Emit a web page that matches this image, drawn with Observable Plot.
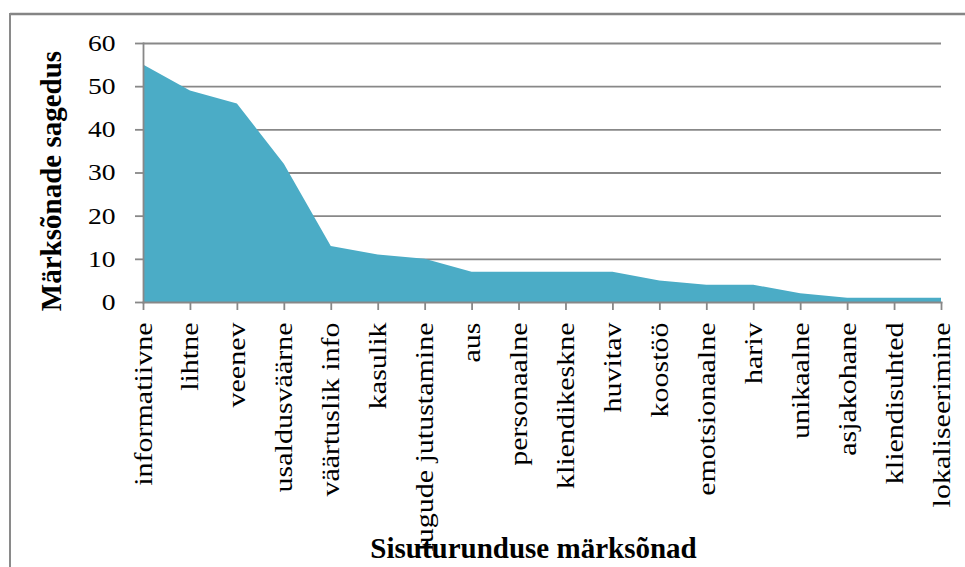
<!DOCTYPE html>
<html><head><meta charset="utf-8">
<script src="https://cdn.jsdelivr.net/npm/d3@7"></script>
<script src="https://cdn.jsdelivr.net/npm/@observablehq/plot@0.6"></script>
<style>
html,body{margin:0;padding:0;background:#fff;overflow:hidden;}
#wrap{position:relative;width:965px;height:567px;overflow:hidden;}
#chart{position:absolute;left:0;top:0;}
</style></head><body>
<div id="wrap"><div id="chart"></div></div>
<script>
const categories = ["informatiivne","lihtne","veenev","usaldusväärne","väärtuslik info","kasulik","lugude jutustamine","aus","personaalne","kliendikeskne","huvitav","koostöö","emotsionaalne","hariv","unikaalne","asjakohane","kliendisuhted","lokaliseerimine"];
const values = [55,49,46,32,13,11,10,7,7,7,7,5,4,4,2,1,1,1];
const yTicks = [0,10,20,30,40,50,60];
const xTitle = "Sisuturunduse märksõnad";
const yTitle = "Märksõnade sagedus";

const data = categories.map((c,i)=>({cat:c, val:values[i]}));
const gray = "#888888";

const plot = Plot.plot({
  width:965, height:567,
  marginLeft:143, marginRight:24, marginTop:43, marginBottom:265,
  style:{fontFamily:"'Liberation Serif','Times New Roman',serif", background:"transparent", color:"#000", overflow:"visible"},
  x:{type:"point", domain:categories, padding:0, round:false, label:null},
  y:{domain:[0,60], label:null},
  marks:[
    Plot.ruleY(yTicks.slice(1), {stroke:gray, strokeWidth:1.8}),
    Plot.areaY(data, {x:"cat", y:"val", fill:"#4bacc6"}),
    Plot.frame({anchor:"left", stroke:gray, strokeWidth:1.8}),
    Plot.frame({anchor:"bottom", stroke:gray, strokeWidth:1.8}),
    Plot.axisY({ticks:yTicks, tickSize:8, tickPadding:20, stroke:gray, strokeWidth:1.8, fontSize:23, label:null, tickFormat:d=>String(d)}),
    Plot.axisX({tickSize:8, tickPadding:12, tickRotate:-90, stroke:gray, strokeWidth:1.8, fontSize:25, label:null}),
    Plot.text([xTitle], {frameAnchor:"bottom", text:d=>d, textAnchor:"middle", dx:-9, dy:246, lineAnchor:"middle", fontWeight:"bold", fontSize:29, fill:"#000"}),
    Plot.text([yTitle], {frameAnchor:"left", text:d=>d, textAnchor:"middle", rotate:-90, dx:-92, dy:8, lineAnchor:"middle", fontWeight:"bold", fontSize:29, fill:"#000"})
  ]
});
document.getElementById("chart").appendChild(plot);

// outer chart-area border (left and top edges, as in the reference crop)
d3.select(plot).append("line")
  .attr("x1", 10).attr("x2", 970).attr("y1", 14).attr("y2", 14)
  .attr("stroke", "#858585").attr("stroke-width", 2.5);
d3.select(plot).append("line")
  .attr("x1", 10).attr("x2", 10).attr("y1", 13).attr("y2", 600)
  .attr("stroke", "#8a8a8a").attr("stroke-width", 2);

// widen tick label glyphs along reading direction (reference font is wider)
plot.querySelectorAll("text").forEach(t => {
  const s = t.textContent;
  if (s === xTitle || s === yTitle) return;
  const len = t.getComputedTextLength();
  if (len > 0) {
    t.setAttribute("textLength", (len * 1.2).toFixed(1));
    t.setAttribute("lengthAdjust", "spacingAndGlyphs");
  }
});
</script>
</body></html>
